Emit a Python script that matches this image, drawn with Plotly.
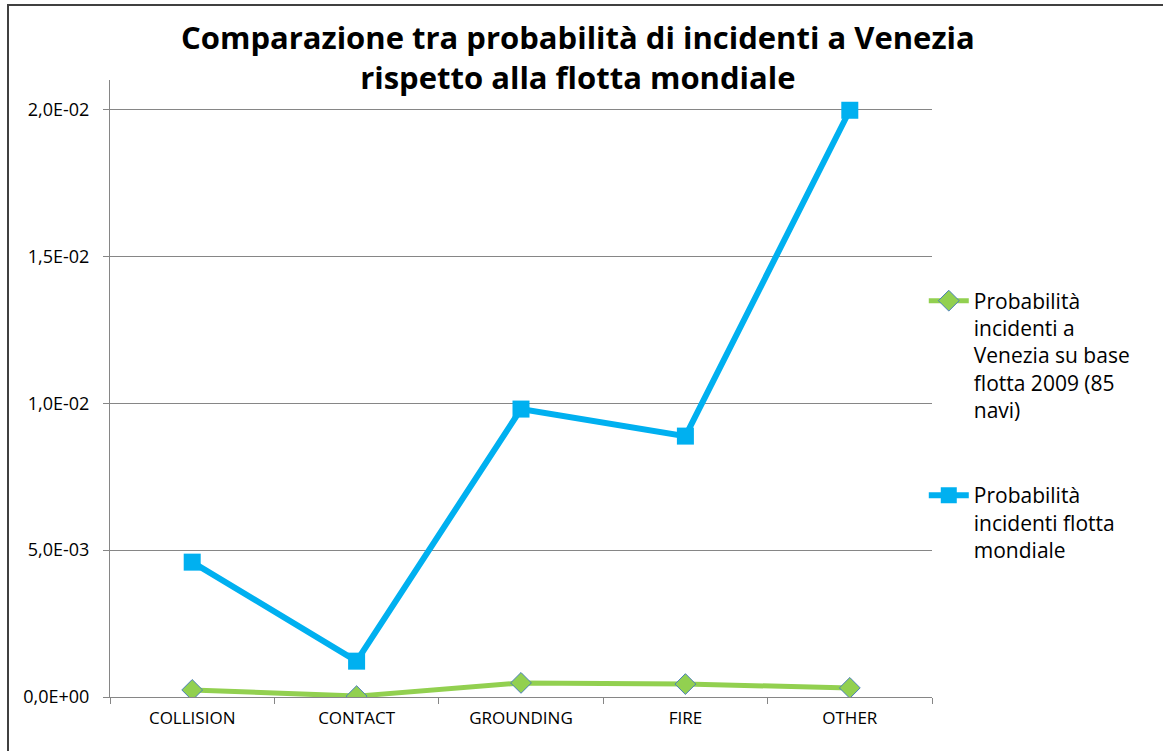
import plotly.graph_objects as go

categories = ["COLLISION", "CONTACT", "GROUNDING", "FIRE", "OTHER"]
venezia = [0.00024, 0.00003, 0.00048, 0.00044, 0.00031]
mondiale = [0.00459, 0.00122, 0.0098, 0.00888, 0.01997]
y_tickvals = [0, 0.005, 0.01, 0.015, 0.02]
y_ticktext = ["0,0E+00", "5,0E-03", "1,0E-02", "1,5E-02", "2,0E-02"]
name_venezia = "Probabilità<br>incidenti a<br>Venezia su base<br>flotta 2009 (85<br>navi)"
name_mondiale = "Probabilità<br>incidenti flotta<br>mondiale"
title = "<b>Comparazione tra probabilità di incidenti a Venezia<br>rispetto alla flotta mondiale</b>"

FONT = "Open Sans"

fig = go.Figure()
fig.add_trace(go.Scatter(
    x=categories, y=venezia, name=name_venezia, mode="lines+markers",
    line=dict(color="#92d050", width=5),
    marker=dict(symbol="diamond", size=16, color="#92d050",
                line=dict(color="#4a7ebb", width=1)),
    legendgroup="a",
))
fig.add_trace(go.Scatter(
    x=categories, y=mondiale, name=name_mondiale, mode="lines+markers",
    line=dict(color="#00b0f0", width=6),
    marker=dict(symbol="square", size=17, color="#00b0f0"),
    legendgroup="b",
))

fig.update_layout(
    width=1163, height=751,
    margin=dict(l=110, r=231, t=80, b=54),
    paper_bgcolor="white", plot_bgcolor="white",
    font=dict(family=FONT, color="black"),
    annotations=[dict(text=title, xref="paper", yref="paper",
                      x=(578 - 110) / 822, y=(697 - 57) / 617,
                      xanchor="center", yanchor="middle", showarrow=False,
                      font=dict(family=FONT, size=31, color="black"))],
    legend=dict(x=0.99, xanchor="left", y=0.675, yanchor="top",
                font=dict(family=FONT, size=21, color="black"),
                tracegroupgap=55, traceorder="grouped", valign="top",
                bgcolor="rgba(0,0,0,0)", itemwidth=40),
    xaxis=dict(showline=True, linecolor="#868686", linewidth=1,
               ticks="outside", ticklen=6, tickcolor="#868686",
               tickson="boundaries", showgrid=False, ticklabelstandoff=6,
               tickfont=dict(family=FONT, size=17), range=[-0.5, 4.5]),
    yaxis=dict(range=[0, 0.021], tickvals=y_tickvals, ticktext=y_ticktext,
               showline=True, linecolor="#868686", linewidth=1,
               ticks="outside", ticklen=6, tickcolor="#868686",
               showgrid=True, gridcolor="#868686", gridwidth=1,
               ticklabelstandoff=10,
               zeroline=False, tickfont=dict(family=FONT, size=18)),
    shapes=[dict(type="rect", xref="paper", yref="paper",
                 x0=(8 - 110) / 822, x1=(1180 - 110) / 822,
                 y0=(697 - 770) / 617, y1=(697 - 5) / 617,
                 line=dict(color="#404040", width=2), layer="below")],
)

fig.write_html("out.html")
